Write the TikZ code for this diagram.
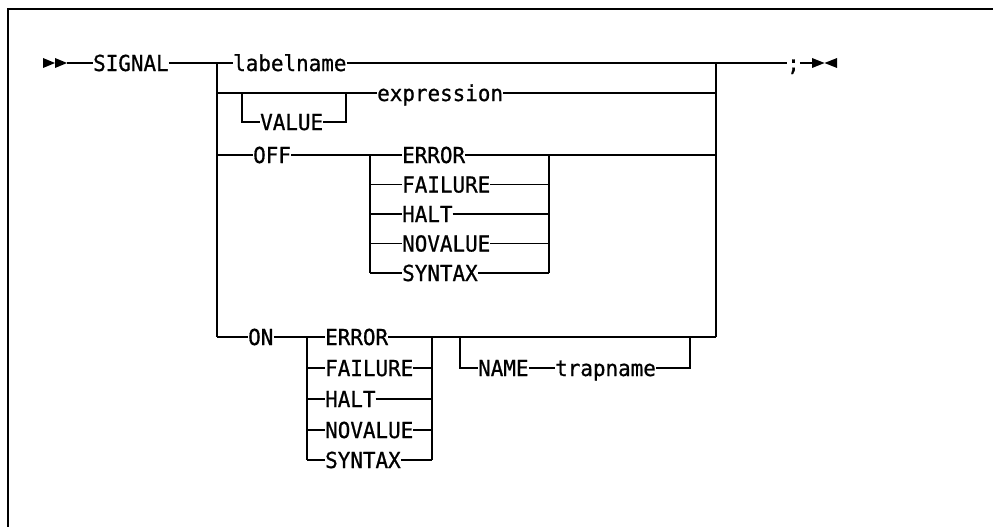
\documentclass[tikz,border=0pt]{standalone}
\usepackage{fontspec}
\newfontfamily\diafont{DejaVu Sans Mono}[FakeStretch=0.95,FakeBold=0.8]
\begin{document}
\begin{tikzpicture}[x=1pt,y=-1pt,
  kw/.style={inner sep=0pt, text height=16pt, text depth=0pt, anchor=west,
             font=\diafont\fontsize{22}{22}\selectfont},
  ln/.style={line width=1.7pt},
  tipfill/.style={fill=black}]
\useasboundingbox (0,0) rectangle (993,527);
% frame
\draw[line width=1.7pt] (993,9) -- (8,9) -- (8,527);

% start marker
\coordinate (a0) at (67,63);
\fill[tipfill] (43,58) -- (43,68) -- (55,63) -- cycle;
\fill[tipfill] (55,58) -- (55,68) -- (67,63) -- cycle;
\node[kw] (sig) at (93,63) {SIGNAL};
\draw[ln] (a0) -- (sig.west);

% rails
\coordinate (L1) at (217,63);
\coordinate (L2) at (217,93);
\coordinate (L3) at (217,155);
\coordinate (L4) at (217,337);
\coordinate (R1) at (716,63);
\coordinate (R2) at (716,93);
\coordinate (R3) at (716,155);
\coordinate (R4) at (716,337);
\draw[ln] (sig.east) -- (L1) -- (L4);
\draw[ln] (R1) -- (R4);

% row 1
\node[kw] (lab) at (233,63) {labelname};
\draw[ln] (L1) -- (lab.west);
\draw[ln] (lab.east) -- (R1);
\node[kw] (semi) at (787,63) {;};
\draw[ln] (R1) -- (semi.west);
\coordinate (e0) at (812,63);
\draw[ln] (semi.east) -- (e0);
\fill[tipfill] (812,58) -- (812,68) -- (824.5,63) -- cycle;
\fill[tipfill] (837,58) -- (837,68) -- (824.5,63) -- cycle;

% row 2
\coordinate (v1) at (242,93);
\coordinate (v2) at (346,93);
\coordinate (v3) at (242,122);
\coordinate (v4) at (346,122);
\node[kw] (val) at (260,122) {VALUE};
\node[kw] (expr) at (377,93) {expression};
\draw[ln] (L2) -- (v1) -- (v2) -- (expr.west);
\draw[ln] (expr.east) -- (R2);
\draw[ln] (v1) -- (v3) -- (val.west);
\draw[ln] (val.east) -- (v4) -- (v2);

% row 3 : OFF
\node[kw] (off) at (253,155) {OFF};
\coordinate (o1) at (370,155);
\coordinate (o2) at (370,273);
\coordinate (o3) at (549,155);
\coordinate (o4) at (549,273);
\draw[ln] (L3) -- (off.west);
\draw[ln] (off.east) -- (o1);
\draw[ln] (o1) -- (o2);
\draw[ln] (o3) -- (o4);
\draw[ln] (o3) -- (R3);
\foreach \n/\t/\y in {oe/ERROR/155, of/FAILURE/184.5, oh/HALT/214, on/NOVALUE/243.5, os/SYNTAX/273} {
  \node[kw] (\n) at (402,\y) {\t};
  \coordinate (\n l) at (370,\y);
  \coordinate (\n r) at (549,\y);
  \draw[ln] (\n l) -- (\n.west);
  \draw[ln] (\n.east) -- (\n r);
}

% row 4 : ON
\node[kw] (onk) at (248,337) {ON};
\coordinate (p1) at (307,337);
\coordinate (p2) at (307,460);
\coordinate (p3) at (432,337);
\coordinate (p4) at (432,460);
\draw[ln] (L4) -- (onk.west);
\draw[ln] (onk.east) -- (p1);
\draw[ln] (p1) -- (p2);
\draw[ln] (p3) -- (p4);
\foreach \n/\t/\y in {ne/ERROR/337, nf/FAILURE/368, nh/HALT/399, nn/NOVALUE/430, ns/SYNTAX/460} {
  \node[kw] (\n) at (325,\y) {\t};
  \coordinate (\n l) at (307,\y);
  \coordinate (\n r) at (432,\y);
  \draw[ln] (\n l) -- (\n.west);
  \draw[ln] (\n.east) -- (\n r);
}
% NAME trapname
\coordinate (q1) at (460,337);
\coordinate (q2) at (460,368);
\coordinate (q3) at (690,368);
\coordinate (q4) at (690,337);
\node[kw] (nm) at (478,368) {NAME};
\node[kw] (tp) at (555,368) {trapname};
\draw[ln] (p3) -- (R4);
\draw[ln] (q1) -- (q2) -- (nm.west);
\draw[ln] (nm.east) -- (tp.west);
\draw[ln] (tp.east) -- (q3) -- (q4);
\end{tikzpicture}
\end{document}
